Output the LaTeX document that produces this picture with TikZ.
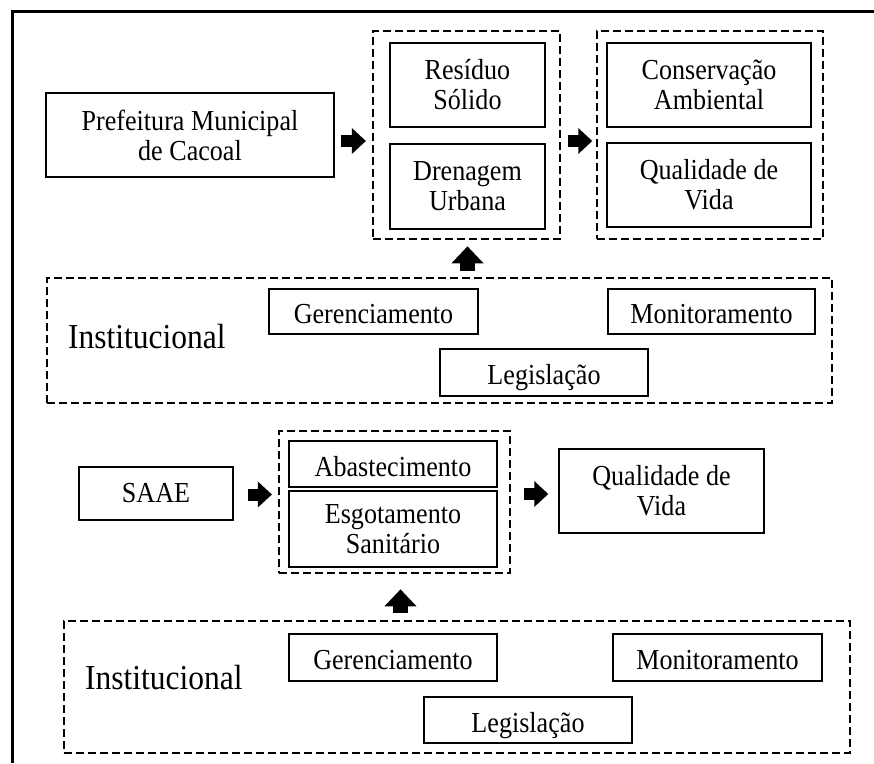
\documentclass[tikz,border=0pt]{standalone}
\usepackage{fontspec}
\setmainfont{Liberation Serif}[FakeStretch=0.9]
\usetikzlibrary{arrows.meta}
\begin{document}
\begin{tikzpicture}[x=1pt,y=-1pt,
  box/.style={draw, line width=1.8pt, align=center, inner sep=0pt,
    font=\fontsize{29}{30}\selectfont},
  onebox/.style={box, text height=24pt, text depth=0pt},
  grp/.style={draw, line width=2.6pt, dash pattern=on 8pt off 4pt, inner sep=0pt},
  harrow/.style={line width=12pt, -{Triangle[length=14pt,width=25pt]}},
  varrow/.style={line width=15pt, -{Triangle[length=17pt,width=31pt]}},
  biglabel/.style={font=\fontsize{35}{38}\selectfont, inner sep=0pt, anchor=base west}]
\useasboundingbox (0,0) rectangle (874,763);
% outer frame (top and left only)
\draw[line width=3pt] (12,763) -- (12,11) -- (874,11);

% ---------- top section ----------
\node[box, minimum width=288pt, minimum height=84pt] (pref) at (190,135) {Prefeitura Municipal\\de Cacoal};
\node[grp, minimum width=187pt, minimum height=208pt] (g1) at (466.5,135) {};
\node[box, minimum width=155pt, minimum height=84pt] (res) at (467.5,85) {Resíduo\\Sólido};
\node[box, minimum width=155pt, minimum height=85pt] (dren) at (467.5,186.5) {Drenagem\\Urbana};
\node[grp, minimum width=226pt, minimum height=208pt] (g2) at (710,135) {};
\node[box, minimum width=204pt, minimum height=84pt] (cons) at (709,85) {Conservação\\Ambiental};
\node[box, minimum width=204pt, minimum height=84pt] (qv1) at (709,185) {Qualidade de\\Vida};

\draw[harrow] ([shift={(6,6)}]pref.east) -- ++(25,0);
\draw[harrow] ([shift={(7,6)}]g1.east) -- ++(24,0);
\draw[varrow] ([shift={(1,31)}]g1.south) -- ++(0,-25);

% ---------- institucional 1 ----------
\node[grp, minimum width=785pt, minimum height=125pt] (inst1) at (439.5,340.5) {};
\node[biglabel] (lab1) at (68,348) {Institucional};
\node[onebox, minimum width=209pt, minimum height=45pt] (ger1) at (373.5,311.5) {Gerenciamento};
\node[onebox, minimum width=207pt, minimum height=45pt] (mon1) at (711.5,311.5) {Monitoramento};
\node[onebox, minimum width=208pt, minimum height=47pt] (leg1) at (544,372.5) {Legislação};

% ---------- middle section ----------
\node[box, minimum width=154pt, minimum height=53pt] (saae) at (156,493.5) {SAAE};
\node[grp, minimum width=231pt, minimum height=142pt] (g3) at (394.5,502) {};
\node[onebox, minimum width=208pt, minimum height=46pt] (abs) at (393,464) {Abastecimento};
\node[box, minimum width=208pt, minimum height=76pt] (esg) at (393,529) {Esgotamento\\Sanitário};
\node[box, minimum width=205pt, minimum height=84pt] (qv2) at (661.5,491) {Qualidade de\\Vida};

\draw[harrow] ([shift={(14,1)}]saae.east) -- ++(24,0);
\draw[harrow] ([shift={(13,-8)}]g3.east) -- ++(24,0);
\draw[varrow] ([shift={(6,39)}]g3.south) -- ++(0,-24);

% ---------- institucional 2 ----------
\node[grp, minimum width=786pt, minimum height=132pt] (inst2) at (457,687) {};
\node[biglabel] (lab2) at (85,689) {Institucional};
\node[onebox, minimum width=208pt, minimum height=47pt] (ger2) at (393,657.5) {Gerenciamento};
\node[onebox, minimum width=209pt, minimum height=47pt] (mon2) at (717.5,657.5) {Monitoramento};
\node[onebox, minimum width=208pt, minimum height=46pt] (leg2) at (528,720) {Legislação};
\end{tikzpicture}
\end{document}
